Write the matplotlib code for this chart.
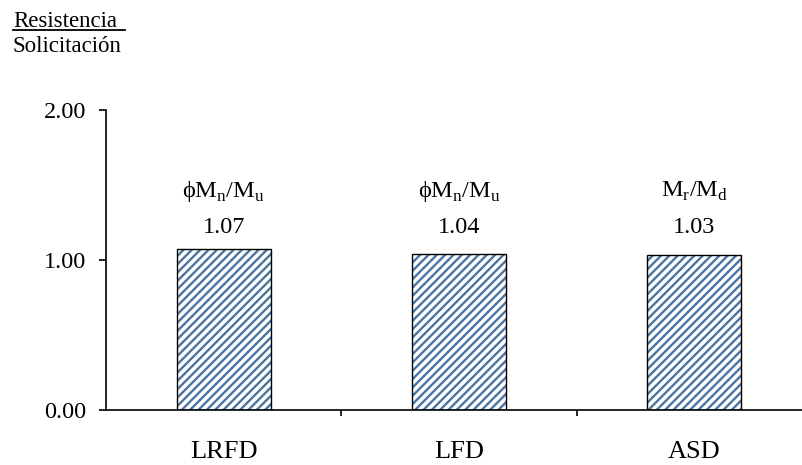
import matplotlib
matplotlib.use("Agg")
import matplotlib.pyplot as plt
from matplotlib.lines import Line2D

categorias = ["LRFD", "LFD", "ASD"]
valores = [1.07, 1.04, 1.03]
razones = ["ϕM$_\\mathrm{n}$/M$_\\mathrm{u}$", "ϕM$_\\mathrm{n}$/M$_\\mathrm{u}$",
           "M$_\\mathrm{r}$/M$_\\mathrm{d}$"]
etiquetas_valor = ["1.07", "1.04", "1.03"]
yticks = [0.0, 1.0, 2.0]

plt.rcParams['font.family'] = ['Liberation Serif', 'DejaVu Serif']
plt.rcParams['mathtext.fontset'] = 'custom'
plt.rcParams['mathtext.rm'] = 'Liberation Serif'
plt.rcParams['hatch.linewidth'] = 1.7

fig = plt.figure(figsize=(8.02, 4.65), dpi=100)
ax = fig.add_axes([106/802, 55/465, 706/802, 300/465])

x = list(range(len(categorias)))
# relleno rayado azul y luego el borde negro
ax.bar(x, valores, width=0.40, color='white', edgecolor='#4a74a0',
       linewidth=0, hatch='////')
ax.bar(x, valores, width=0.40, fill=False, edgecolor='black', linewidth=1.0)

# las etiquetas van todas a la misma altura
for xi, r, e in zip(x, razones, etiquetas_valor):
    ax.text(xi, 1.18, e, ha='center', va='baseline', fontsize=17.5)
    ax.text(xi, 1.42, r, ha='center', va='baseline', fontsize=17.5)

ax.set_xlim(-0.5, 2.5)
ax.set_ylim(0, 2)
ax.set_yticks(yticks)
ax.set_yticklabels(["%.2f" % t for t in yticks], fontsize=17.5)
ax.set_xticks(x)
ax.set_xticklabels(categorias, fontsize=19)
ax.tick_params(axis='x', length=0, pad=22)
ax.set_xticks([0.5, 1.5], minor=True)
ax.tick_params(axis='x', which='minor', length=4.5, width=1.2, direction='out')
ax.tick_params(axis='y', length=5, width=1.2, direction='out', pad=9)
ax.spines['top'].set_visible(False)
ax.spines['right'].set_visible(False)
ax.spines['left'].set_linewidth(1.2)
ax.spines['bottom'].set_linewidth(1.2)

fig.text(13/802, 1 - 27/465, "Resistencia", fontsize=16.5, va='baseline', ha='left')
fig.add_artist(Line2D([13/802, 125/802], [1 - 30/465, 1 - 30/465],
                      color='black', linewidth=1.3, transform=fig.transFigure))
fig.text(13/802, 1 - 52/465, "Solicitación", fontsize=16.5, va='baseline', ha='left')

fig.savefig("out.png", dpi=100)
